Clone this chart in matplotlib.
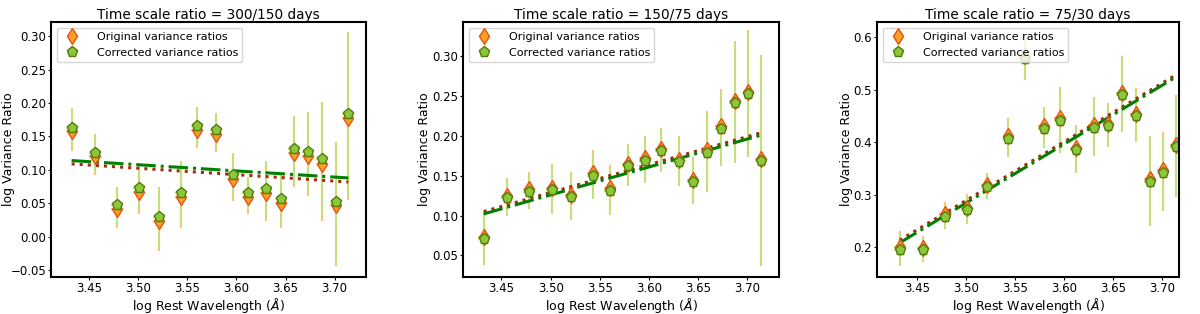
import numpy as np
import matplotlib
matplotlib.use('Agg')
import matplotlib.pyplot as plt

# log rest wavelength of each bin
log_wave = [3.432, 3.456, 3.478, 3.501, 3.521, 3.543, 3.560, 3.579, 3.596,
            3.612, 3.630, 3.645, 3.659, 3.673, 3.687, 3.701, 3.714]
wave_err = [0.006] * 17

titles = ['Time scale ratio = 300/150 days',
          'Time scale ratio = 150/75 days',
          'Time scale ratio = 75/30 days']

# 300/150 days
orig_1 = [0.158, 0.121, 0.041, 0.067, 0.024, 0.060, 0.160, 0.153, 0.086,
          0.059, 0.065, 0.050, 0.125, 0.121, 0.109, 0.047, 0.177]
corr_1 = [0.163, 0.126, 0.047, 0.073, 0.030, 0.066, 0.166, 0.159, 0.093,
          0.065, 0.071, 0.056, 0.131, 0.127, 0.116, 0.052, 0.184]
err_1 = [0.030, 0.028, 0.028, 0.033, 0.045, 0.047, 0.028, 0.026, 0.032,
         0.025, 0.042, 0.037, 0.050, 0.060, 0.085, 0.090, 0.122]
fit_orig_1 = [0.109, 0.082]
fit_corr_1 = [0.114, 0.088]

# 150/75 days
orig_2 = [0.073, 0.125, 0.133, 0.135, 0.126, 0.153, 0.134, 0.165, 0.172,
          0.184, 0.170, 0.145, 0.182, 0.212, 0.244, 0.255, 0.171]
corr_2 = [0.070, 0.122, 0.130, 0.132, 0.123, 0.150, 0.131, 0.162, 0.169,
          0.181, 0.167, 0.142, 0.179, 0.209, 0.241, 0.252, 0.168]
err_2 = [0.032, 0.022, 0.022, 0.030, 0.029, 0.029, 0.030, 0.025, 0.028,
         0.026, 0.030, 0.028, 0.049, 0.047, 0.075, 0.078, 0.131]
fit_orig_2 = [0.105, 0.204]
fit_corr_2 = [0.102, 0.201]

# 75/30 days
orig_3 = [0.200, 0.199, 0.263, 0.275, 0.319, 0.411, 0.563, 0.430, 0.445,
          0.389, 0.432, 0.435, 0.494, 0.454, 0.329, 0.346, 0.395]
corr_3 = [0.195, 0.194, 0.258, 0.270, 0.314, 0.406, 0.559, 0.425, 0.440,
          0.384, 0.427, 0.430, 0.489, 0.449, 0.324, 0.341, 0.390]
err_3 = [0.031, 0.023, 0.023, 0.027, 0.023, 0.034, 0.040, 0.037, 0.060,
         0.043, 0.054, 0.039, 0.069, 0.049, 0.083, 0.073, 0.094]
fit_orig_3 = [0.213, 0.528]
fit_corr_3 = [0.208, 0.524]

panels = [
    (orig_1, corr_1, err_1, fit_orig_1, fit_corr_1),
    (orig_2, corr_2, err_2, fit_orig_2, fit_corr_2),
    (orig_3, corr_3, err_3, fit_orig_3, fit_corr_3),
]
xlims = [(3.411, 3.732), (3.411, 3.732), (3.409, 3.717)]
ylims = [(-0.060, 0.321), (0.0228, 0.343), (0.143, 0.6286)]
# axes boxes in pixels (left, right)
boxes = [(51, 366), (463, 779), (877, 1179)]

W, H = 1200, 314
fig = plt.figure(figsize=(W / 100, H / 100), dpi=100)

for i, (orig, corr, err, f_o, f_c) in enumerate(panels):
    l, r = boxes[i]
    ax = fig.add_axes([l / W, 1 - 277 / H, (r - l) / W, 255 / H])

    ax.errorbar(log_wave, orig, yerr=err, xerr=wave_err, fmt='d',
                ms=8, mfc='#f5a21f', mec='#e8501a', mew=1.0,
                ecolor='#f7c27a', elinewidth=1.5, capsize=0,
                label='Original variance ratios')
    ax.errorbar(log_wave, corr, yerr=err, xerr=wave_err, fmt='p',
                ms=8, mfc='#8cc63a', mec='#4f7f08', mew=1.0,
                ecolor='#c5e07a', elinewidth=1.5, capsize=0,
                label='Corrected variance ratios')

    ends = [log_wave[0], log_wave[-1]]
    ax.plot(ends, f_o, ':', color='#a52a0a', lw=2.2)
    ax.plot(ends, f_c, '-.', color='green', lw=2.2)

    ax.set_xlim(xlims[i])
    ax.set_ylim(ylims[i])
    ax.set_xticks([3.45, 3.50, 3.55, 3.60, 3.65, 3.70])
    ax.tick_params(labelsize=8.5, length=2, pad=1.5)
    for s in ax.spines.values():
        s.set_linewidth(1.5)
    ax.set_title(titles[i], fontsize=9.8, pad=2)
    ax.set_xlabel(r'log Rest Wavelength ($\AA$)', fontsize=9, labelpad=1)
    ax.set_ylabel('log Variance Ratio', fontsize=9, labelpad=0.5)
    ax.legend(loc='upper left', fontsize=8, handletextpad=1.2,
              borderaxespad=0.5)

# keep the first y label inside the canvas
fig.axes[0].yaxis.set_label_coords(-36 / 315, 0.5)

fig.savefig('out.png', dpi=100)
